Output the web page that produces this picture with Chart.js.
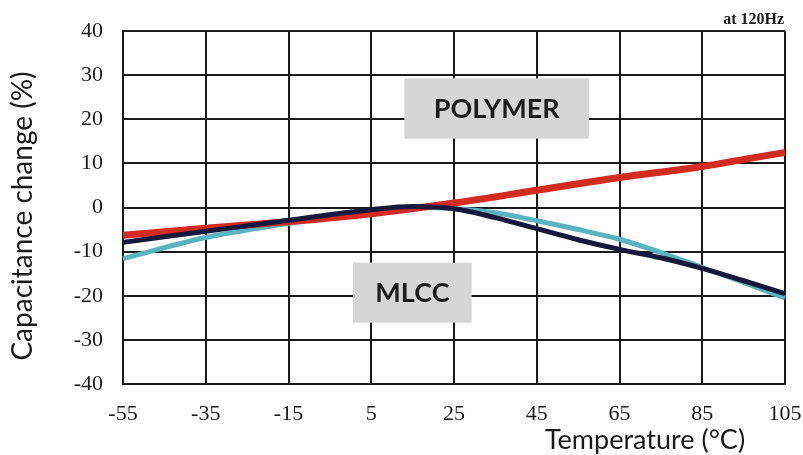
<!DOCTYPE html>
<html>
<head>
<meta charset="utf-8">
<script src="https://cdn.jsdelivr.net/npm/chart.js@4.4.1/dist/chart.umd.min.js"></script>
<style>
  html, body { margin: 0; padding: 0; background: #fff; }
  #wrap { width: 803px; height: 455px; }
</style>
</head>
<body>
<div id="wrap"><canvas id="capChart" width="803" height="455"></canvas></div>
<script>
// temperatures (°C) and capacitance change (%)
const xTicks = [-55, -35, -15, 5, 25, 45, 65, 85, 105];

const polymerTemp = [-55, -35, -15, 5, 25, 45, 65, 85, 105];
const polymerVals = [-6.3, -4.7, -3.2, -1.4, 1.0, 3.9, 6.8, 9.3, 12.5];

const mlccTemp = [-55, -35, -15, 5, 15, 25, 35, 45, 55, 65, 75, 85, 95, 105];
const mlccVals = [-7.9, -5.4, -2.9, -0.5, 0.2, -0.3, -2.3, -4.8, -7.3, -9.5, -11.4, -13.8, -16.6, -19.5];

const mlcc2Temp = [-55, -35, -15, 5, 15, 25, 35, 45, 55, 65, 75, 85, 95, 105];
const mlcc2Vals = [-11.6, -6.8, -3.6, -0.9, 0.0, -0.2, -1.2, -3.0, -5.0, -7.2, -10.2, -13.6, -17.0, -20.5];

function toPoints(xs, ys) {
    return xs.map((x, i) => ({ x: x, y: ys[i] }));
}

const serif = "'Liberation Serif', 'DejaVu Serif', serif";
const sans = "Lato, 'Open Sans', sans-serif";

// labels and boxes drawn on top of the grid
const extrasPlugin = {
    id: "extras",
    afterDatasetsDraw(c) {
        const ctx = c.ctx;
        const xs = c.scales.x, ys = c.scales.y;

        function box(x0, x1, y0, y1, text) {
            const l = xs.getPixelForValue(x0), r = xs.getPixelForValue(x1);
            const t = ys.getPixelForValue(y1), b = ys.getPixelForValue(y0);
            ctx.fillStyle = "#d6d6d4";
            ctx.fillRect(l, t, r - l, b - t);
            ctx.fillStyle = "#1c1c1c";
            ctx.font = "bold 27px " + sans;
            ctx.textAlign = "center";
            ctx.textBaseline = "middle";
            ctx.fillText(text, (l + r) / 2, (t + b) / 2 + 1);
        }

        ctx.save();
        box(13, 57.6, 15.6, 29.3, "POLYMER");
        box(0.6, 29.3, -26.1, -12.5, "MLCC");

        ctx.fillStyle = "#1a1a1a";
        ctx.font = "bold 16px " + serif;
        ctx.textAlign = "right";
        ctx.textBaseline = "alphabetic";
        ctx.fillText("at 120Hz", 784, 24);

        ctx.font = "27px " + sans;
        ctx.textAlign = "center";
        ctx.fillText("Temperature (\u00B0C)", 645, 449);

        ctx.translate(23, 216);
        ctx.rotate(-Math.PI / 2);
        ctx.textBaseline = "middle";
        ctx.font = "28px " + sans;
        ctx.fillText("Capacitance change (%)", 0, 0);
        ctx.restore();
    }
};

const lineStyle = {
    showLine: true,
    pointRadius: 0,
    tension: 0.4,
    cubicInterpolationMode: "monotone",
    fill: false,
    clip: 4
};

new Chart(document.getElementById("capChart"), {
    type: "scatter",
    data: {
        datasets: [
            Object.assign({
                label: "MLCC (2)",
                data: toPoints(mlcc2Temp, mlcc2Vals),
                borderColor: "#5bb3c0",
                borderWidth: 5,
                order: 3
            }, lineStyle),
            Object.assign({
                label: "POLYMER",
                data: toPoints(polymerTemp, polymerVals),
                borderColor: "#d42b20",
                borderWidth: 7,
                order: 2
            }, lineStyle),
            Object.assign({
                label: "MLCC",
                data: toPoints(mlccTemp, mlccVals),
                borderColor: "#15183a",
                borderWidth: 5,
                order: 1
            }, lineStyle)
        ]
    },
    options: {
        responsive: false,
        animation: false,
        layout: { padding: { top: 31, right: 18, left: 0, bottom: 0 } },
        scales: {
            x: {
                type: "linear",
                min: -55,
                max: 105,
                afterBuildTicks: s => { s.ticks = xTicks.map(v => ({ value: v })); },
                afterFit: s => {
                    s.height = 71;
                    s.paddingLeft = 0;
                    s.paddingRight = 0;
                },
                grid: { color: "#1a1a1a", lineWidth: 2, drawTicks: false },
                border: { color: "#1a1a1a", width: 2 },
                ticks: {
                    color: "#1a1a1a",
                    padding: 17,
                    maxRotation: 0,
                    font: { family: serif, size: 22 }
                }
            },
            y: {
                min: -40,
                max: 40,
                afterFit: s => {
                    s.width = 123;
                    s.paddingTop = 0;
                    s.paddingBottom = 0;
                },
                grid: { color: "#1a1a1a", lineWidth: 2, drawTicks: false },
                border: { color: "#1a1a1a", width: 2 },
                ticks: {
                    stepSize: 10,
                    color: "#1a1a1a",
                    padding: 20,
                    font: { family: serif, size: 22 }
                }
            }
        },
        plugins: {
            legend: { display: false },
            tooltip: { enabled: false }
        }
    },
    plugins: [extrasPlugin]
});
</script>
</body>
</html>
